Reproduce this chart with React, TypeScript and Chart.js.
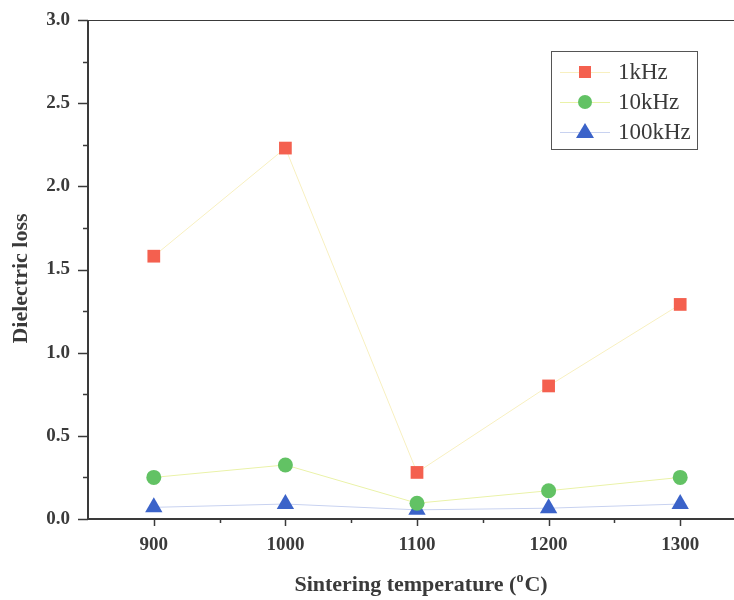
import React, { useEffect, useRef } from "react";
import { Chart, registerables } from "chart.js";

Chart.register(...registerables);

const temperatures = [900, 1000, 1100, 1200, 1300];
const loss1kHz = [1.58, 2.23, 0.28, 0.8, 1.29];
const loss10kHz = [0.25, 0.325, 0.095, 0.17, 0.25];
const loss100kHz = [0.07, 0.09, 0.055, 0.065, 0.09];
const seriesLabels = ["1kHz", "10kHz", "100kHz"];
const xTitleParts = ["Sintering temperature (", "o", "C)"];
const yTitle = "Dielectric loss";

const FONT = "'Liberation Serif', 'Times New Roman', serif";
const INK = "#3a3a3a";

const axesPlugin = {
  id: "axesPlugin",
  beforeDatasetsDraw(chart: any) {
    const { ctx, chartArea } = chart;
    const xs = chart.scales.x;
    const ys = chart.scales.y;
    ctx.save();
    ctx.strokeStyle = INK;
    ctx.lineWidth = 1;
    ctx.beginPath();
    ctx.moveTo(chartArea.left, chartArea.top + 0.5);
    ctx.lineTo(chartArea.right, chartArea.top + 0.5);
    ctx.stroke();
    ctx.lineWidth = 2;
    ctx.beginPath();
    ctx.moveTo(chartArea.left, chartArea.top);
    ctx.lineTo(chartArea.left, chartArea.bottom);
    ctx.lineTo(chartArea.right, chartArea.bottom);
    ctx.stroke();
    ctx.lineWidth = 1.5;
    ys.ticks.forEach((t: any) => {
      const v = t.value;
      const major = Math.abs(v / 0.5 - Math.round(v / 0.5)) < 1e-6;
      const py = Math.round(ys.getPixelForValue(v)) + 0.5;
      ctx.beginPath();
      ctx.moveTo(chartArea.left, py);
      ctx.lineTo(chartArea.left - (major ? 10 : 5), py);
      ctx.stroke();
    });
    xs.ticks.forEach((t: any) => {
      const v = t.value;
      if (v <= xs.min || v >= xs.max) return;
      if (Math.abs(v / 50 - Math.round(v / 50)) > 1e-6) return;
      const major = v % 100 === 0;
      const px = Math.round(xs.getPixelForValue(v)) + 0.5;
      ctx.beginPath();
      ctx.moveTo(px, chartArea.bottom);
      ctx.lineTo(px, chartArea.bottom + (major ? 7 : 4));
      ctx.stroke();
    });
    ctx.restore();
  },
  afterDraw(chart: any) {
    const { ctx, chartArea } = chart;
    ctx.save();
    ctx.fillStyle = INK;
    ctx.font = `bold 22px ${FONT}`;
    ctx.textAlign = "center";
    ctx.textBaseline = "middle";
    ctx.translate(21, (chartArea.top + chartArea.bottom) / 2 + 9);
    ctx.rotate(-Math.PI / 2);
    ctx.fillText(yTitle, 0, 0);
    ctx.restore();

    ctx.save();
    ctx.fillStyle = INK;
    ctx.textBaseline = "alphabetic";
    ctx.textAlign = "left";
    const big = `bold 22px ${FONT}`;
    const small = `bold 14px ${FONT}`;
    ctx.font = big;
    const w1 = ctx.measureText(xTitleParts[0]).width;
    const w3 = ctx.measureText(xTitleParts[2]).width;
    ctx.font = small;
    const w2 = ctx.measureText(xTitleParts[1]).width + 1;
    const total = w1 + w2 + w3;
    const cx = (chartArea.left + chartArea.right) / 2 + 4;
    let x = cx - total / 2;
    const base = 591;
    ctx.font = big;
    ctx.fillText(xTitleParts[0], x, base);
    x += w1;
    ctx.font = small;
    ctx.fillText(xTitleParts[1], x, base - 9);
    x += w2;
    ctx.font = big;
    ctx.fillText(xTitleParts[2], x, base);
    ctx.restore();
  },
};

const legendPlugin = {
  id: "boxLegend",
  afterDraw(chart: any) {
    const { ctx, chartArea } = chart;
    const boxRight = chartArea.right - 49;
    const boxLeft = boxRight - 146;
    const boxTop = chartArea.top + 31;
    const boxH = 98;
    ctx.save();
    ctx.strokeStyle = "#555";
    ctx.lineWidth = 1;
    ctx.strokeRect(boxLeft + 0.5, boxTop + 0.5, 146, boxH);
    chart.data.datasets.forEach((ds: any, i: number) => {
      const cy = boxTop + 21 + i * 30;
      const cx = boxLeft + 34;
      ctx.strokeStyle = ds.borderColor;
      ctx.lineWidth = 1;
      ctx.beginPath();
      ctx.moveTo(boxLeft + 9, cy + 0.5);
      ctx.lineTo(boxLeft + 59, cy + 0.5);
      ctx.stroke();
      ctx.fillStyle = ds.pointBackgroundColor;
      ctx.beginPath();
      if (ds.pointStyle === "rect") {
        ctx.rect(cx - 6, cy - 6, 12, 12);
      } else if (ds.pointStyle === "circle") {
        ctx.arc(cx, cy, 7, 0, Math.PI * 2);
      } else {
        ctx.moveTo(cx, cy - 9);
        ctx.lineTo(cx + 9, cy + 6);
        ctx.lineTo(cx - 9, cy + 6);
        ctx.closePath();
      }
      ctx.fill();
      ctx.fillStyle = INK;
      ctx.font = `23px ${FONT}`;
      ctx.textBaseline = "middle";
      ctx.textAlign = "left";
      ctx.fillText(ds.label, boxLeft + 67, cy + 1);
    });
    ctx.restore();
  },
};

function zeroPad(s: any) {
  s.paddingTop = 0;
  s.paddingBottom = 0;
  s.paddingLeft = 0;
  s.paddingRight = 0;
}

export default function App() {
  const ref = useRef<HTMLCanvasElement | null>(null);

  useEffect(() => {
    if (!ref.current) return;
    const toPts = (arr: number[]) => temperatures.map((t, i) => ({ x: t, y: arr[i] }));
    const chart = new Chart(ref.current, {
      type: "line",
      data: {
        datasets: [
          {
            label: seriesLabels[0],
            data: toPts(loss1kHz),
            borderColor: "#f8f0c0",
            borderWidth: 1,
            pointStyle: "rect",
            pointRadius: 9,
            pointBackgroundColor: "#f4604f",
            pointBorderWidth: 0,
            pointBorderColor: "#f4604f",
          },
          {
            label: seriesLabels[1],
            data: toPts(loss10kHz),
            borderColor: "#eaf2a8",
            borderWidth: 1,
            pointStyle: "circle",
            pointRadius: 7.5,
            pointBackgroundColor: "#62c264",
            pointBorderWidth: 0,
            pointBorderColor: "#62c264",
          },
          {
            label: seriesLabels[2],
            data: toPts(loss100kHz),
            borderColor: "#c8d2f0",
            borderWidth: 1,
            pointStyle: "triangle",
            pointRadius: 10,
            pointBackgroundColor: "#3b63c9",
            pointBorderWidth: 0,
            pointBorderColor: "#3b63c9",
          },
        ] as any,
      },
      options: {
        animation: false,
        responsive: false,
        maintainAspectRatio: false,
        layout: { autoPadding: false, padding: { top: 20, left: 0, right: 0, bottom: 0 } },
        elements: { line: { tension: 0 } },
        datasets: { line: { clip: false } } as any,
        plugins: {
          legend: { display: false },
          tooltip: { enabled: false },
        },
        scales: {
          x: {
            type: "linear",
            min: 850,
            max: 1350,
            grid: { display: false, drawTicks: false },
            border: { display: false },
            afterFit: (s: any) => {
              s.height = 81;
              zeroPad(s);
            },
            ticks: {
              stepSize: 50,
              autoSkip: false,
              maxRotation: 0,
              padding: 15,
              color: INK,
              font: { family: FONT, size: 19, weight: "bold" },
              callback: (v: any) => (Number(v) % 100 === 0 && Number(v) < 1350 ? String(v) : ""),
            },
            title: { display: false },
          },
          y: {
            min: 0,
            max: 3,
            grid: { display: false, drawTicks: false },
            border: { display: false },
            afterFit: (s: any) => {
              s.width = 88;
              zeroPad(s);
            },
            ticks: {
              stepSize: 0.25,
              autoSkip: false,
              padding: 18,
              color: INK,
              font: { family: FONT, size: 19, weight: "bold" },
              callback: (v: any) => {
                const n = Number(v);
                return Math.abs(n / 0.5 - Math.round(n / 0.5)) < 1e-6 ? n.toFixed(1) : "";
              },
            },
            title: { display: false },
          },
        },
      },
      plugins: [axesPlugin, legendPlugin],
    });
    return () => chart.destroy();
  }, []);

  return (
    <div
      style={{
        position: "fixed",
        left: 0,
        top: 0,
        width: 734,
        height: 600,
        overflow: "hidden",
        background: "#fff",
      }}
    >
      <canvas ref={ref} width={746} height={600} style={{ width: 746, height: 600 }} />
    </div>
  );
}
